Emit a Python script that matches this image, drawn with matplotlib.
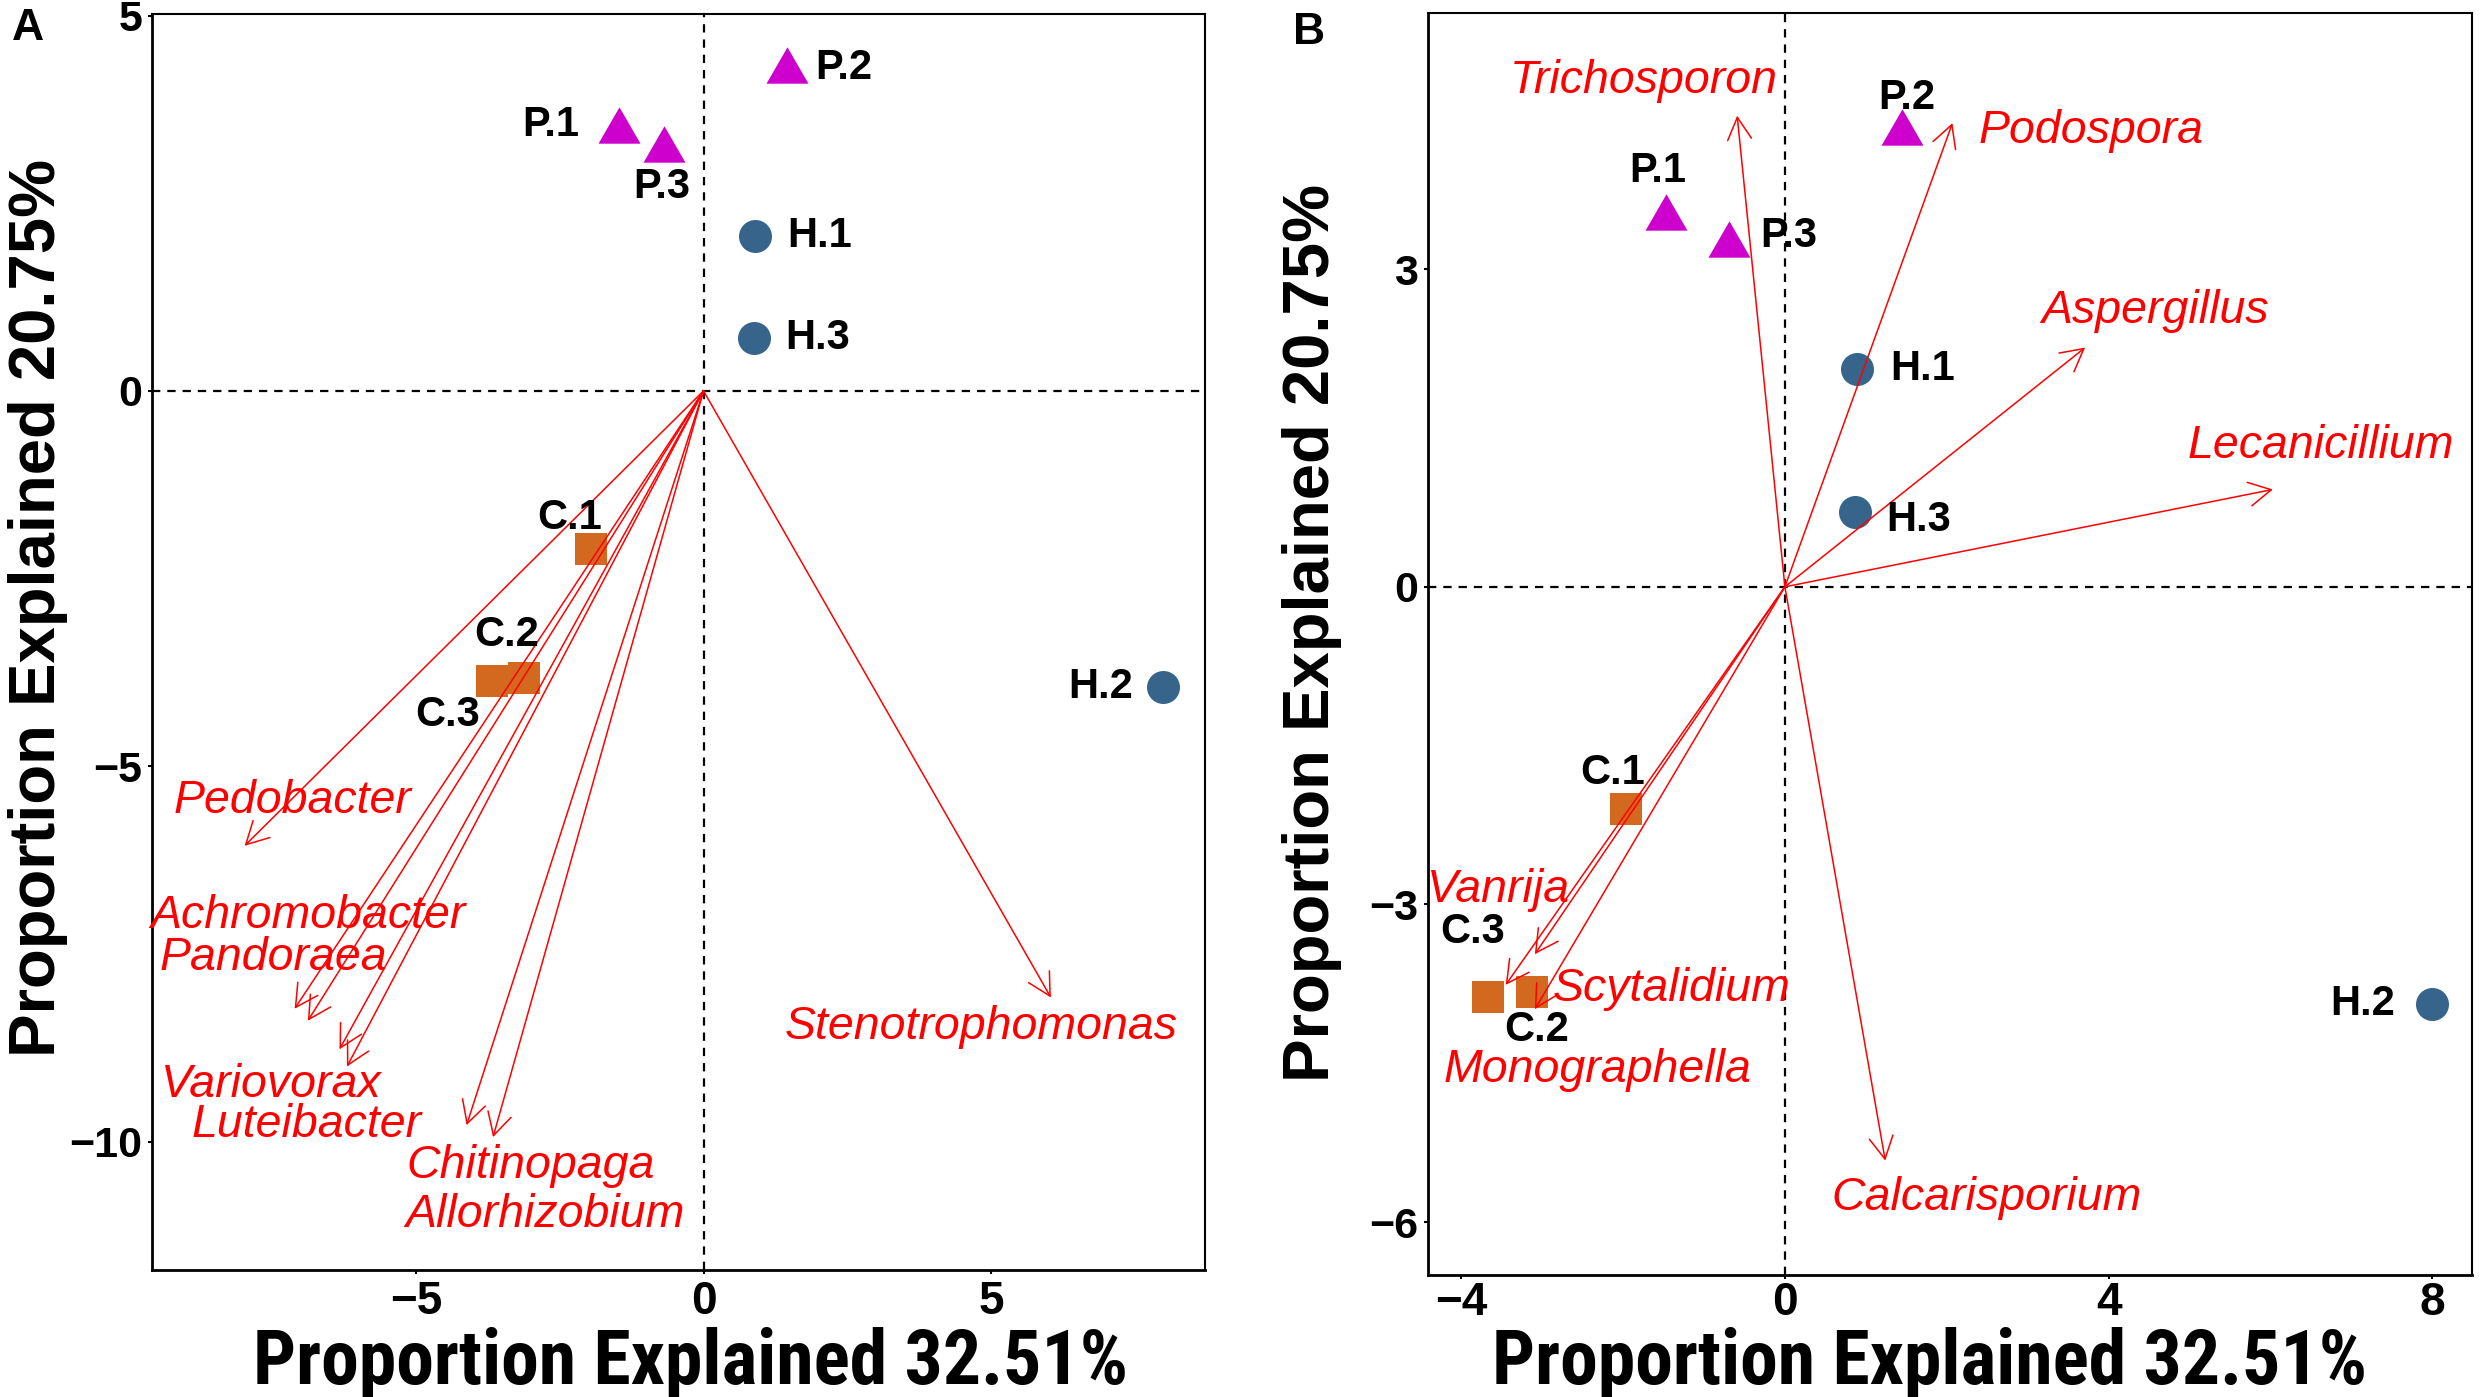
import matplotlib
matplotlib.use("Agg")
import matplotlib.pyplot as plt
from matplotlib import font_manager
from matplotlib.font_manager import FontProperties
from matplotlib.patches import FancyArrowPatch, ArrowStyle
from matplotlib.path import Path
import matplotlib.transforms as mtransforms
import os

# ---------------- data ----------------
samples = ["P.1", "P.2", "P.3", "H.1", "H.2", "H.3", "C.1", "C.2", "C.3"]
groups = ["P", "P", "P", "H", "H", "H", "C", "C", "C"]
pc1 = [-1.47, 1.45, -0.69, 0.89, 7.99, 0.87, -1.96, -3.13, -3.67]
pc2 = [3.54, 4.34, 3.29, 2.06, -3.94, 0.71, -2.10, -3.83, -3.87]

bact_taxa = ["Pedobacter", "Achromobacter", "Pandoraea", "Variovorax",
             "Luteibacter", "Chitinopaga", "Allorhizobium", "Stenotrophomonas"]
bact_x = [-7.98, -7.11, -6.88, -6.33, -6.20, -4.12, -3.66, 6.04]
bact_y = [-6.06, -8.23, -8.39, -8.77, -9.00, -9.78, -9.94, -8.08]
bact_lab_x = [-7.14, -6.87, -7.48, -7.52, -6.90, -3.01, -2.76, 4.83]
bact_lab_y = [-5.46, -6.99, -7.55, -9.24, -9.78, -10.32, -10.98, -8.47]

fung_taxa = ["Trichosporon", "Podospora", "Aspergillus", "Lecanicillium",
             "Calcarisporium", "Vanrija", "Scytalidium", "Monographella"]
fung_x = [-0.59, 2.07, 3.71, 6.03, 1.24, -3.09, -3.09, -3.45]
fung_y = [4.45, 4.38, 2.26, 0.92, -5.42, -3.47, -3.99, -3.76]
fung_lab_x = [-1.74, 3.78, 4.58, 6.62, 2.49, -3.54, -1.40, -2.31]
fung_lab_y = [4.78, 4.31, 2.61, 1.33, -5.77, -2.86, -3.80, -4.56]

xlabel_text = "Proportion Explained 32.51%"
ylabel_text = "Proportion Explained 20.75%"
a_xticks = [-5, 0, 5]
a_yticks = [-10, -5, 0, 5]
b_xticks = [-4, 0, 4, 8]
b_yticks = [-6, -3, 0, 3]

# ---------------- style ----------------
W, H, DPI = 2480, 1397, 100
PX = 72.0 / DPI  # points per pixel

names = {f.name for f in font_manager.fontManager.ttflist}
base_font = "Liberation Sans" if "Liberation Sans" in names else "DejaVu Sans"
plt.rcParams["font.family"] = [base_font, "DejaVu Sans"]
plt.rcParams["lines.scale_dashes"] = False


def find_condensed_bold():
    prefs = ["liberationsansnarrow-bold", "arialnarrow", "robotocondensed-bold",
             "opensanscondensed-bold", "opensans_condensed-bold", "notosans-condensedbold",
             "dejavusanscondensed-bold"]
    cands = []
    for f in font_manager.fontManager.ttflist:
        fn = os.path.basename(f.fname).lower().replace(" ", "")
        if "italic" in fn or "oblique" in fn:
            continue
        is_cond = ("narrow" in fn or "condensed" in fn or
                   str(f.stretch).lower() in ("condensed", "semi-condensed", "narrow"))
        is_bold = ("bold" in fn and "semibold" not in fn and "extrabold" not in fn) or \
                  f.weight in (700, "bold")
        if is_cond and is_bold:
            cands.append((f.fname, fn))
    for p in prefs:
        for fname, fn in cands:
            if fn.startswith(p):
                return fname
    return cands[0][0] if cands else None


cond_file = find_condensed_bold()
if cond_file:
    xlab_prop = FontProperties(fname=cond_file)
else:
    xlab_prop = FontProperties(family=base_font, weight="bold")

tri_path = Path([(0, 0.866), (-1, -0.866), (1, -0.866), (0, 0.866)],
                [Path.MOVETO, Path.LINETO, Path.LINETO, Path.CLOSEPOLY])
group_style = {
    "P": dict(marker=tri_path, color="#CD00CD", ms=42 * PX),
    "H": dict(marker="o", color="#36648B", ms=33 * PX),
    "C": dict(marker="s", color="#D2691E", ms=32 * PX),
}

# label offsets in pixels (dx, dy with y downward, ha)
a_offsets = {
    "P.1": (-40, 0, "right"), "P.2": (28, 3, "left"), "P.3": (-2, 43, "center"),
    "H.1": (33, 0, "left"), "H.2": (-30, 0, "right"), "H.3": (32, 0, "left"),
    "C.1": (-21, -31, "center"), "C.2": (-17, -43, "center"), "C.3": (-45, 34, "center"),
}
b_offsets = {
    "P.1": (-8, -41, "center"), "P.2": (4, -29, "center"), "P.3": (31, -3, "left"),
    "H.1": (33, 0, "left"), "H.2": (-37, 0, "right"), "H.3": (31, 8, "left"),
    "C.1": (-14, -36, "center"), "C.2": (5, 38, "center"), "C.3": (-15, -65, "center"),
}

fig = plt.figure(figsize=(W / DPI, H / DPI), dpi=DPI)
fig.patch.set_facecolor("white")
xlab_texts = []


def px_box(l, t, r, b):
    return [l / W, (H - b) / H, (r - l) / W, (b - t) / H]


def draw_panel(ax, xlim, ylim, xticks, yticks, ax_x, ax_y, lab_x, lab_y, taxa,
               offsets, xlab_frac, ylab_xpx, ylab_ypx, xpad):
    ax.set_xlim(*xlim)
    ax.set_ylim(*ylim)
    ax.axhline(0, color="black", lw=1.6, dashes=(6, 5), zorder=1)
    ax.axvline(0, color="black", lw=1.6, dashes=(6, 5), zorder=1)

    for s, g, x, y in zip(samples, groups, pc1, pc2):
        st = group_style[g]
        ax.plot([x], [y], linestyle="none", marker=st["marker"], ms=st["ms"],
                color=st["color"], mew=0, zorder=3)
        dx, dy, ha = offsets[s]
        ax.annotate(s, (x, y), xytext=(dx * PX, -dy * PX), textcoords="offset points",
                    ha=ha, va="center", fontsize=30, fontweight="bold",
                    color="black", zorder=5)

    style = ArrowStyle("->", head_length=16, head_width=8.6)
    for x, y in zip(ax_x, ax_y):
        arr = FancyArrowPatch((0, 0), (x, y), arrowstyle=style, mutation_scale=1,
                              color="red", lw=1.1, shrinkA=0, shrinkB=0, zorder=4)
        ax.add_patch(arr)
    for name, x, y in zip(taxa, lab_x, lab_y):
        ax.text(x, y, name, color="red", style="italic", fontsize=33.5,
                ha="center", va="center", zorder=5)

    ax.set_xticks(xticks)
    ax.set_yticks(yticks)
    ax.set_xticklabels([str(t).replace("-", "\u2212") for t in xticks],
                       fontsize=33, fontweight="bold")
    ax.set_yticklabels([str(t).replace("-", "\u2212") for t in yticks],
                       fontsize=31, fontweight="bold")
    ax.tick_params(axis="both", length=3, width=1.5, color="black")
    ax.tick_params(axis="x", pad=xpad)
    ax.tick_params(axis="y", pad=4)
    for side, sp in ax.spines.items():
        sp.set_color("black")
        sp.set_linewidth(2.0 if side in ("left", "bottom") else 1.5)

    trans = mtransforms.blended_transform_factory(ax.transAxes, fig.transFigure)
    t = ax.text(xlab_frac, (H - 1384) / H, xlabel_text, transform=trans,
                ha="center", va="baseline", fontproperties=xlab_prop.copy())
    t.set_fontsize(50)
    xlab_texts.append(t)
    fig.text(ylab_xpx / W, (H - ylab_ypx) / H, ylabel_text, rotation=90,
             ha="center", va="center", fontsize=47, fontweight="bold")


axA = fig.add_axes(px_box(152, 14, 1205, 1270))
draw_panel(axA, (-9.59, 8.72), (-11.71, 5.02), a_xticks, a_yticks,
           bact_x, bact_y, bact_lab_x, bact_lab_y, bact_taxa, a_offsets,
           0.511, 38, 608, 4.5)

axB = fig.add_axes(px_box(1428, 13, 2472, 1275))
draw_panel(axB, (-4.41, 8.49), (-6.50, 5.42), b_xticks, b_yticks,
           fung_x, fung_y, fung_lab_x, fung_lab_y, fung_taxa, b_offsets,
           0.48, 1312, 633, 1.0)

# fit x-axis titles to the measured width of the reference (about 875 px)
renderer = fig.canvas.get_renderer()
for t in xlab_texts:
    w = t.get_window_extent(renderer).width
    t.set_fontsize(min(60, 50 * 875.0 / w))

fig.text(28 / W, (H - 29) / H, "A", ha="center", va="center",
         fontsize=32, fontweight="bold")
fig.text(1309 / W, (H - 32) / H, "B", ha="center", va="center",
         fontsize=32, fontweight="bold")

fig.savefig("out.png", dpi=DPI, facecolor="white")
